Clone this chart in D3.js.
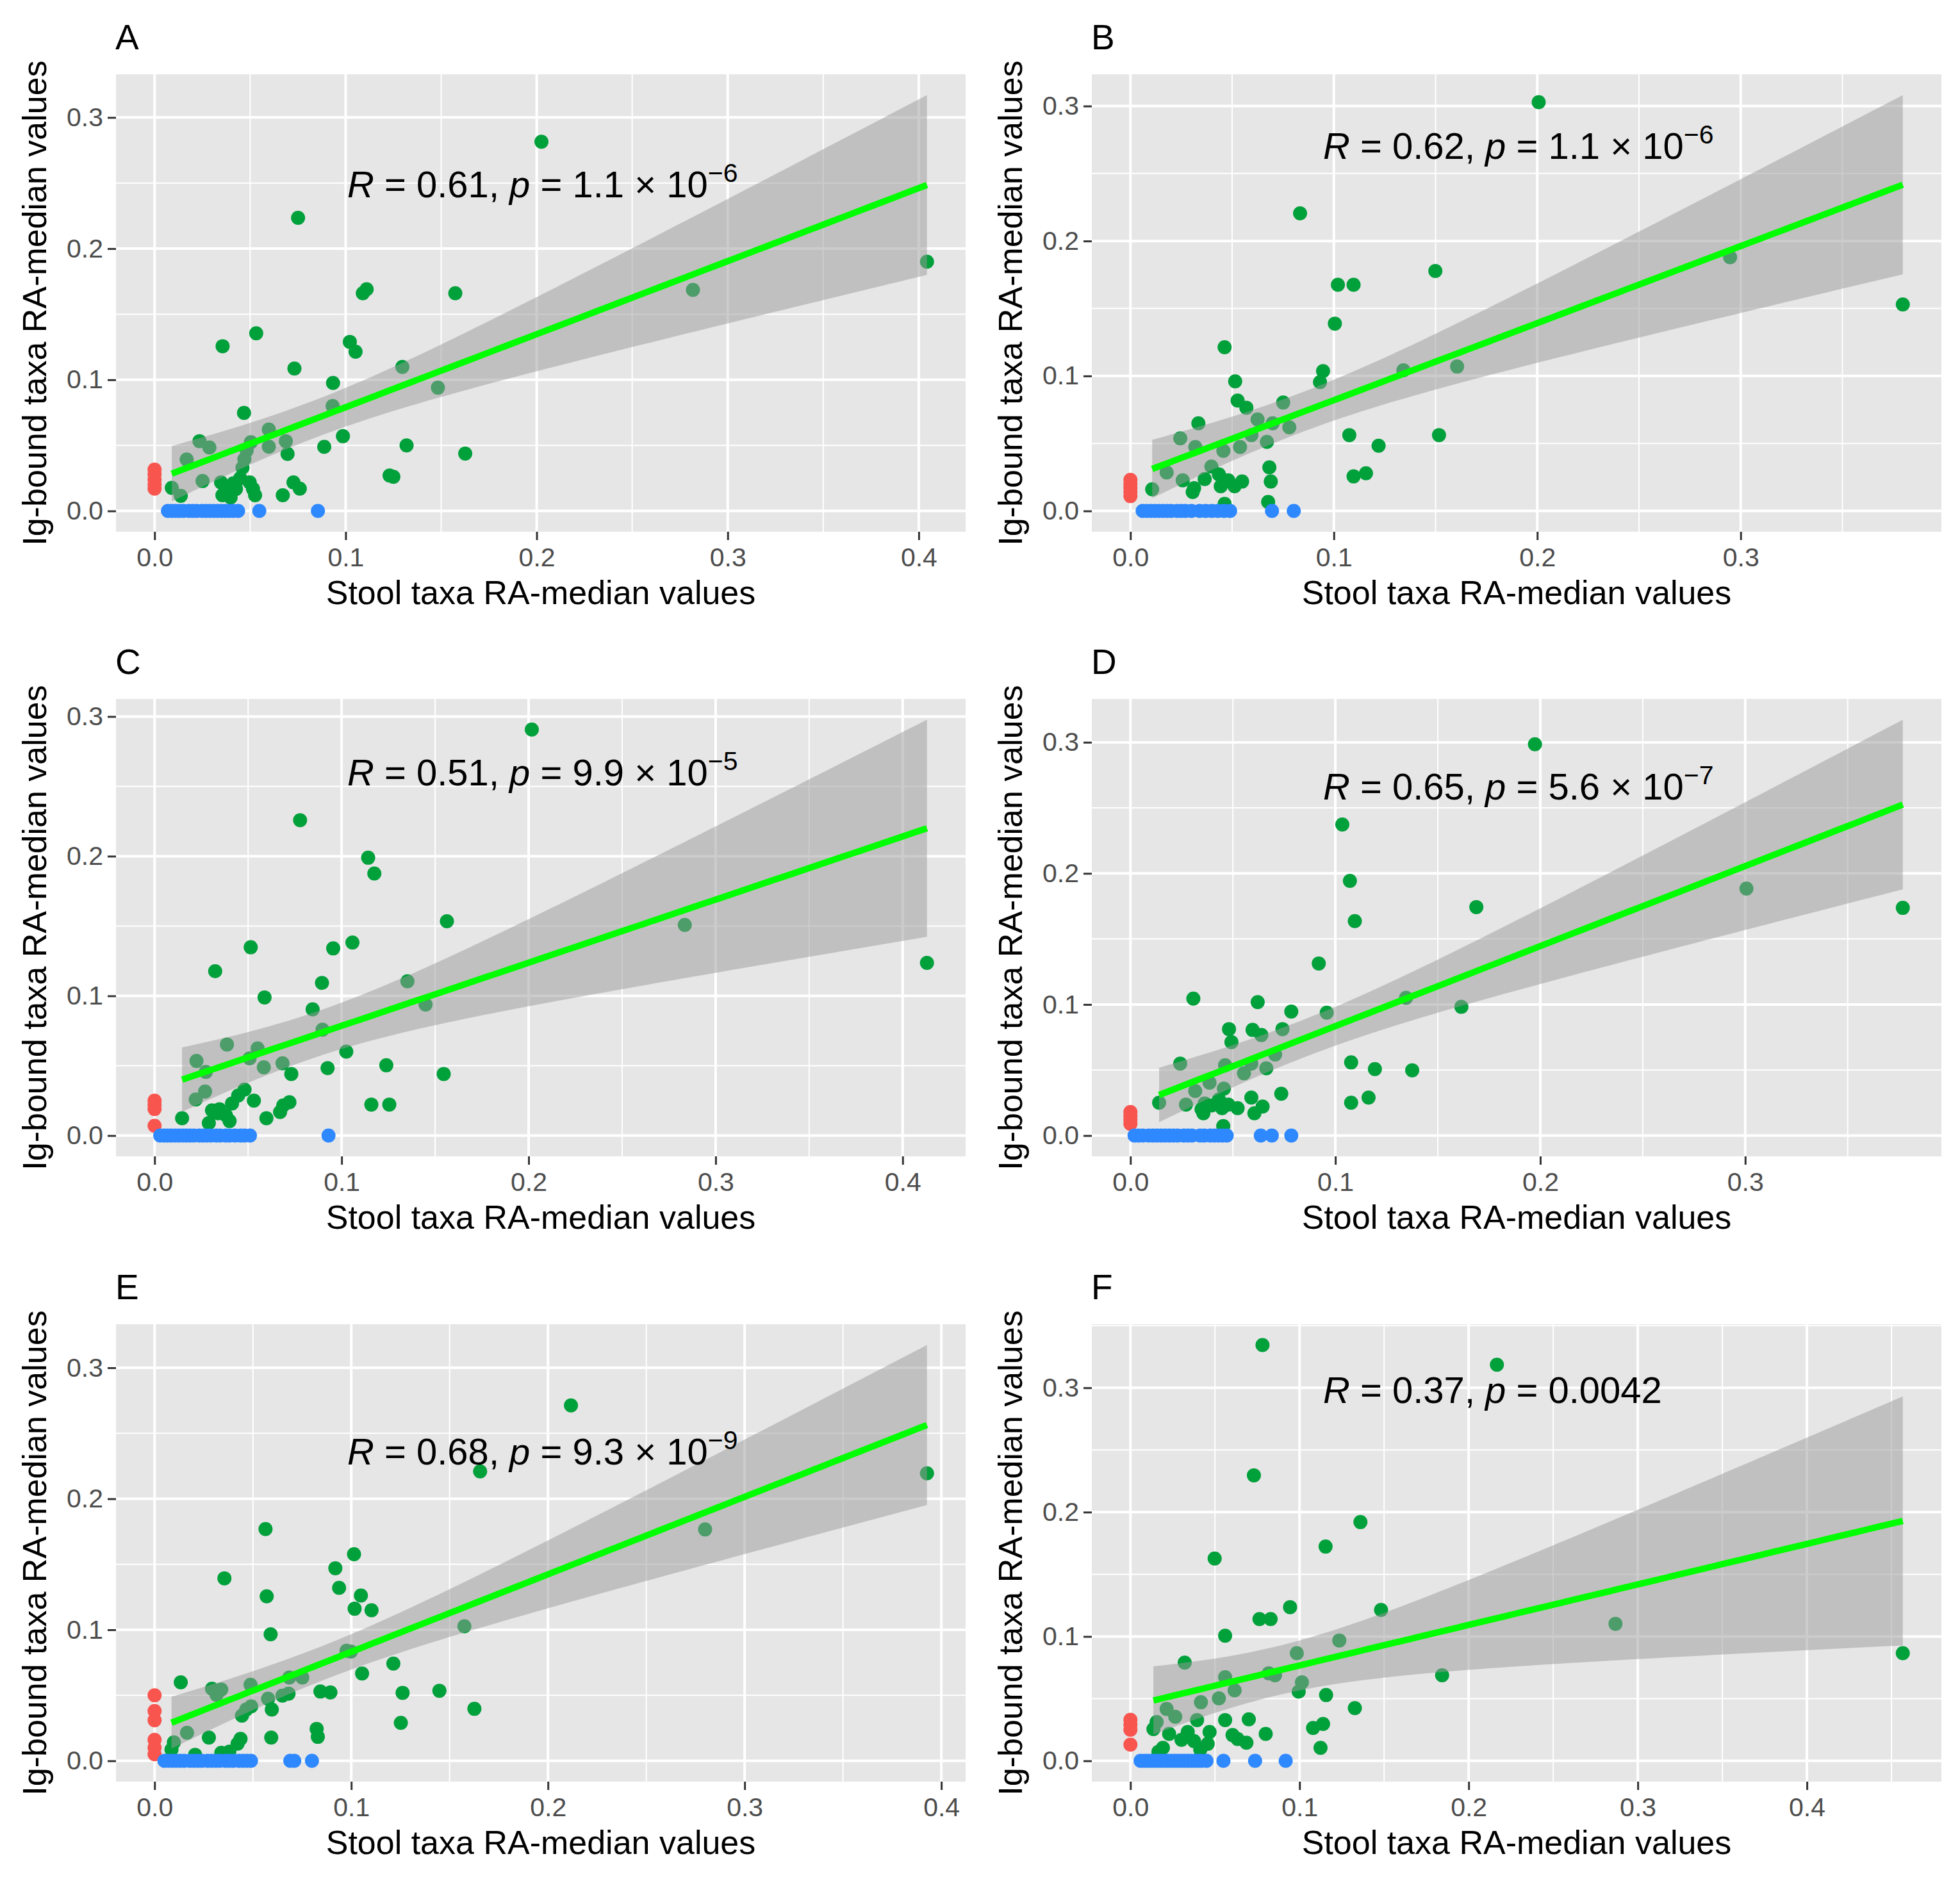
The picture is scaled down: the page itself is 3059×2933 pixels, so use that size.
<!DOCTYPE html>
<html>
<head>
<meta charset="utf-8">
<script src="https://cdn.jsdelivr.net/npm/d3@7"></script>
<style>
  body { margin: 0; background: #fff; }
  text { font-family: "Liberation Sans", Arial, sans-serif; }
</style>
</head>
<body>
<svg id="fig"></svg>
<script>
const W = 3059, H = 2933;

// green points: [stool RA-median, Ig-bound RA-median]
const greenA = [[0.2025,0.2815],[0.0751,0.2235],[0.4043,0.190],[0.2818,0.1685],[0.109,0.166],[0.111,0.169],[0.1574,0.166],[0.0532,0.1354],[0.0356,0.1256],[0.1022,0.1289],[0.1052,0.1214],[0.0732,0.1086],[0.1297,0.1098],[0.0934,0.0976],[0.1483,0.094],[0.0468,0.0748],[0.0932,0.080],[0.0986,0.057],[0.0598,0.0621],[0.0598,0.049],[0.0687,0.0532],[0.0696,0.0435],[0.0888,0.0489],[0.1319,0.05],[0.1626,0.0437],[0.123,0.027],[0.125,0.026],[0.0235,0.0532],[0.0287,0.0484],[0.0168,0.0392],[0.0251,0.0228],[0.009,0.0176],[0.0137,0.0115],[0.0348,0.0217],[0.037,0.0152],[0.0398,0.0103],[0.0426,0.0168],[0.0448,0.0249],[0.046,0.033],[0.047,0.0395],[0.0482,0.046],[0.0504,0.0524],[0.0498,0.0217],[0.0515,0.0168],[0.0526,0.012],[0.0671,0.012],[0.0727,0.0217],[0.076,0.017],[0.0355,0.012],[0.0412,0.021]];
const greenB = [[0.2007,0.3029],[0.0834,0.2205],[0.2948,0.188],[0.1499,0.1778],[0.102,0.1676],[0.1097,0.1676],[0.3797,0.153],[0.1005,0.1388],[0.0463,0.1213],[0.1606,0.107],[0.1342,0.1042],[0.0947,0.1036],[0.0932,0.0954],[0.0515,0.096],[0.0527,0.0818],[0.057,0.0765],[0.0751,0.0803],[0.0625,0.0678],[0.0699,0.0649],[0.0781,0.062],[0.0334,0.0649],[0.0245,0.0538],[0.0319,0.0474],[0.0457,0.0445],[0.0539,0.0474],[0.0671,0.0512],[0.0595,0.0562],[0.1076,0.0562],[0.1517,0.0562],[0.122,0.0483],[0.0683,0.0323],[0.069,0.0218],[0.0677,0.0067],[0.1097,0.0256],[0.1158,0.0279],[0.0178,0.0285],[0.0107,0.016],[0.0257,0.0227],[0.0313,0.0169],[0.0365,0.0236],[0.0398,0.0329],[0.0435,0.0271],[0.0444,0.0183],[0.0481,0.0227],[0.0512,0.0183],[0.0549,0.0218],[0.0463,0.0052],[0.0306,0.014]];
const greenC = [[0.2017,0.2907],[0.0778,0.2258],[0.1142,0.1989],[0.1175,0.1876],[0.1563,0.1534],[0.2835,0.1508],[0.413,0.1236],[0.0514,0.1348],[0.0955,0.134],[0.1058,0.1382],[0.0324,0.1177],[0.0895,0.1093],[0.1352,0.1104],[0.0588,0.0989],[0.0845,0.0904],[0.1449,0.0938],[0.0898,0.0758],[0.0387,0.0652],[0.0551,0.0624],[0.1025,0.0601],[0.0224,0.0534],[0.0508,0.0553],[0.0584,0.0489],[0.0684,0.0517],[0.0731,0.0441],[0.0925,0.0483],[0.1239,0.0503],[0.1546,0.0441],[0.0274,0.0455],[0.027,0.0315],[0.022,0.0258],[0.0147,0.0124],[0.029,0.009],[0.0307,0.018],[0.0347,0.0188],[0.0381,0.0146],[0.0401,0.0104],[0.0414,0.023],[0.0447,0.0287],[0.0481,0.0329],[0.0531,0.025],[0.0598,0.0124],[0.0671,0.0169],[0.0688,0.0216],[0.0721,0.0239],[0.1159,0.0222],[0.1255,0.0222],[0.034,0.016]];
const greenD = [[0.1974,0.2985],[0.1034,0.2373],[0.1071,0.1943],[0.1095,0.1636],[0.1688,0.1743],[0.3006,0.1884],[0.3769,0.1737],[0.0919,0.1313],[0.0307,0.1045],[0.0621,0.1018],[0.0785,0.0946],[0.0958,0.0937],[0.1345,0.1051],[0.1615,0.0982],[0.0481,0.0812],[0.0596,0.0806],[0.0639,0.0767],[0.0742,0.0812],[0.0493,0.0713],[0.0706,0.0618],[0.0243,0.0549],[0.0462,0.0537],[0.0554,0.0475],[0.059,0.0549],[0.0663,0.0513],[0.1077,0.0558],[0.1193,0.0507],[0.1375,0.0498],[0.0386,0.0403],[0.0456,0.0358],[0.0316,0.034],[0.0736,0.0319],[0.014,0.0251],[0.0271,0.0236],[0.0347,0.02],[0.0362,0.0245],[0.0396,0.023],[0.0432,0.0275],[0.0447,0.0209],[0.0478,0.0236],[0.0523,0.0209],[0.059,0.029],[0.0605,0.017],[0.0645,0.0221],[0.1077,0.0251],[0.1162,0.029],[0.0453,0.0072],[0.0356,0.017]];
const greenE = [[0.2117,0.2713],[0.1655,0.2209],[0.3927,0.2194],[0.2799,0.1766],[0.0564,0.1769],[0.1014,0.1577],[0.0919,0.147],[0.0355,0.1393],[0.0938,0.132],[0.1049,0.1262],[0.057,0.1256],[0.1017,0.1161],[0.1103,0.1149],[0.059,0.0966],[0.1575,0.1027],[0.0976,0.084],[0.0998,0.0834],[0.1214,0.0742],[0.1055,0.0666],[0.0685,0.0636],[0.0751,0.0636],[0.0133,0.0599],[0.0292,0.055],[0.0339,0.0544],[0.0488,0.0581],[0.0315,0.0504],[0.0843,0.0529],[0.0894,0.0522],[0.1261,0.0519],[0.1448,0.0535],[0.065,0.0498],[0.0681,0.0513],[0.0577,0.0474],[0.0491,0.0416],[0.0466,0.0391],[0.0596,0.0391],[0.0444,0.0345],[0.1626,0.0397],[0.1252,0.029],[0.0824,0.0244],[0.083,0.0183],[0.0165,0.0214],[0.0276,0.0177],[0.0593,0.0177],[0.0437,0.0168],[0.0422,0.0131],[0.0098,0.0141],[0.0086,0.0086],[0.0206,0.0046],[0.0339,0.0061],[0.038,0.007]];
const greenF = [[0.0781,0.3344],[0.2167,0.3185],[0.073,0.2296],[0.136,0.192],[0.1154,0.1723],[0.0498,0.1627],[0.0944,0.1236],[0.1482,0.1213],[0.0763,0.114],[0.0829,0.114],[0.2868,0.1102],[0.056,0.1006],[0.1235,0.0968],[0.0984,0.0866],[0.4567,0.0866],[0.0321,0.079],[0.1843,0.0688],[0.0818,0.0704],[0.0855,0.0688],[0.056,0.0672],[0.1014,0.0631],[0.0995,0.0557],[0.0616,0.0567],[0.1157,0.0529],[0.0523,0.0503],[0.0417,0.0471],[0.0214,0.0417],[0.0265,0.0354],[0.1327,0.0424],[0.0394,0.0328],[0.0155,0.0312],[0.056,0.0328],[0.07,0.0334],[0.0136,0.0255],[0.108,0.0264],[0.1139,0.0296],[0.0229,0.0217],[0.0339,0.0232],[0.0468,0.0232],[0.0604,0.0207],[0.0634,0.0175],[0.0686,0.0146],[0.08,0.0217],[0.0302,0.0169],[0.0376,0.0159],[0.0457,0.0137],[0.1124,0.0105],[0.0192,0.0105],[0.0166,0.0073],[0.0413,0.009]];

// red points sit at stool = 0 (Ig-bound values listed)
const redA = [0.0315, 0.028, 0.024, 0.020, 0.017];
const redB = [0.023, 0.020, 0.017, 0.014, 0.011];
const redC = [0.025, 0.022, 0.019, 0.007];
const redD = [0.018, 0.015, 0.012, 0.009];
const redE = [0.050, 0.038, 0.031, 0.016, 0.010, 0.005];
const redF = [0.033, 0.029, 0.025, 0.013];

// blue points sit at Ig-bound = 0 (stool values listed)
const blueA = [0.007,0.009,0.011,0.013,0.015,0.018,0.020,0.022,0.025,0.027,0.029,0.031,0.033,0.035,0.037,0.039,0.041,0.0437,0.0548,0.0855];
const blueB = [0.006,0.008,0.010,0.012,0.014,0.016,0.018,0.020,0.023,0.025,0.027,0.030,0.034,0.037,0.040,0.043,0.046,0.049,0.0696,0.0803];
const blueC = [0.003,0.005,0.007,0.009,0.011,0.013,0.015,0.017,0.019,0.021,0.024,0.026,0.028,0.030,0.033,0.035,0.038,0.040,0.043,0.046,0.048,0.051,0.093];
const blueD = [0.002,0.004,0.006,0.009,0.011,0.013,0.015,0.017,0.019,0.021,0.023,0.026,0.028,0.030,0.034,0.036,0.039,0.041,0.043,0.045,0.047,0.0636,0.069,0.0785];
const blueE = [0.005,0.007,0.009,0.011,0.013,0.015,0.018,0.020,0.022,0.024,0.027,0.029,0.031,0.033,0.036,0.038,0.040,0.043,0.045,0.047,0.049,0.069,0.071,0.080];
const blueF = [0.006,0.008,0.010,0.012,0.014,0.016,0.018,0.020,0.022,0.024,0.026,0.028,0.030,0.032,0.034,0.036,0.038,0.040,0.042,0.045,0.055,0.0737,0.0918];

const panelLetters = ['A', 'B', 'C', 'D', 'E', 'F'];
const rValues = ['0.61', '0.62', '0.51', '0.65', '0.68', '0.37'];
const pValues = ['1.1', '1.1', '9.9', '5.6', '9.3', '0.0042'];
const pExponents = ['6', '6', '5', '7', '9', null];
const xTitle = 'Stool taxa RA-median values';
const yTitle = 'Ig-bound taxa RA-median values';

const greens = [greenA, greenB, greenC, greenD, greenE, greenF];
const reds = [redA, redB, redC, redD, redE, redF];
const blues = [blueA, blueB, blueC, blueD, blueE, blueF];

// layout (pixels)
const colLeft = [181, 1704];
const rowTop = [116, 1091, 2067];
const pw = 1326, ph = 714;
const labelDy = [192, 132, 135, 157, 219, 123];
const labelDx = 361;

const colRed = '#F8554F', colGreen = '#00A03B', colBlue = '#2E88FF';

const svg = d3.select('#fig')
  .attr('width', W)
  .attr('height', H)
  .attr('viewBox', `0 0 ${W} ${H}`);

svg.append('rect').attr('width', W).attr('height', H).attr('fill', '#fff');

// rough t quantile (0.975) for the 95% band
function tQuant(df) {
  const z = 1.959964;
  return z + (z**3 + z) / (4*df) + (5*z**5 + 16*z**3 + 3*z) / (96*df*df);
}

function lmBand(pts) {
  const n = pts.length;
  const mx = d3.mean(pts, d => d[0]), my = d3.mean(pts, d => d[1]);
  let sxx = 0, sxy = 0;
  pts.forEach(([x, y]) => { sxx += (x-mx)**2; sxy += (x-mx)*(y-my); });
  const b = sxy / sxx, a = my - b*mx;
  let sse = 0;
  pts.forEach(([x, y]) => { sse += (y - a - b*x)**2; });
  const s = Math.sqrt(sse / (n-2));
  const t = tQuant(n-2);
  const [x0, x1] = d3.extent(pts, d => d[0]);
  return d3.range(80).map(i => {
    const x = x0 + (x1-x0)*i/79;
    const yh = a + b*x;
    const se = s * Math.sqrt(1/n + (x-mx)**2/sxx);
    return {x: x, y: yh, lo: yh - t*se, hi: yh + t*se};
  });
}

function expand(ext) {
  const d = (ext[1] - ext[0]) * 0.05;
  return [ext[0] - d, ext[1] + d];
}

function breaks(dom, step, offset) {
  const out = [];
  for (let k = Math.ceil((dom[0]-offset)/step - 1e-9); k*step + offset <= dom[1] + 1e-9; k++) {
    out.push(Math.round((k*step + offset)*1000)/1000);
  }
  return out;
}

panelLetters.forEach((letter, i) => {
  const left = colLeft[i % 2];
  const top = rowTop[Math.floor(i / 2)];
  const g = greens[i], r = reds[i], b = blues[i];
  const band = lmBand(g);

  const allX = g.map(d => d[0]).concat(b, r.map(() => 0));
  const allY = g.map(d => d[1]).concat(r, b.map(() => 0), band.map(d => d.lo), band.map(d => d.hi));
  const xDom = expand(d3.extent(allX));
  const yDom = expand(d3.extent(allY));

  const x = d3.scaleLinear().domain(xDom).range([left, left + pw]);
  const y = d3.scaleLinear().domain(yDom).range([top + ph, top]);

  const panel = svg.append('g').attr('class', 'panel-' + letter);

  // clip for the panel contents
  const clipId = 'clip' + letter;
  panel.append('clipPath').attr('id', clipId)
    .append('rect').attr('x', left).attr('y', top).attr('width', pw).attr('height', ph);

  panel.append('rect')
    .attr('x', left).attr('y', top).attr('width', pw).attr('height', ph)
    .attr('fill', '#E6E6E6');

  const xMajor = breaks(xDom, 0.1, 0), xMinor = breaks(xDom, 0.1, 0.05);
  const yMajor = breaks(yDom, 0.1, 0), yMinor = breaks(yDom, 0.1, 0.05);

  const grid = panel.append('g').attr('stroke', '#fff');
  grid.selectAll('.vmin').data(xMinor).enter().append('line')
    .attr('x1', d => x(d)).attr('x2', d => x(d)).attr('y1', top).attr('y2', top + ph)
    .attr('stroke-width', 2);
  grid.selectAll('.hmin').data(yMinor).enter().append('line')
    .attr('y1', d => y(d)).attr('y2', d => y(d)).attr('x1', left).attr('x2', left + pw)
    .attr('stroke-width', 2);
  grid.selectAll('.vmaj').data(xMajor).enter().append('line')
    .attr('x1', d => x(d)).attr('x2', d => x(d)).attr('y1', top).attr('y2', top + ph)
    .attr('stroke-width', 4);
  grid.selectAll('.hmaj').data(yMajor).enter().append('line')
    .attr('y1', d => y(d)).attr('y2', d => y(d)).attr('x1', left).attr('x2', left + pw)
    .attr('stroke-width', 4);

  const marks = panel.append('g').attr('clip-path', `url(#${clipId})`);

  marks.selectAll('.pt-g').data(g).enter().append('circle')
    .attr('cx', d => x(d[0])).attr('cy', d => y(d[1])).attr('r', 11)
    .attr('fill', colGreen);
  marks.selectAll('.pt-r').data(r).enter().append('circle')
    .attr('cx', x(0)).attr('cy', d => y(d)).attr('r', 11)
    .attr('fill', colRed);
  marks.selectAll('.pt-b').data(b).enter().append('circle')
    .attr('cx', d => x(d)).attr('cy', y(0)).attr('r', 11)
    .attr('fill', colBlue);

  marks.append('path')
    .datum(band)
    .attr('d', d3.area().x(d => x(d.x)).y0(d => y(d.lo)).y1(d => y(d.hi)))
    .attr('fill', '#999999').attr('fill-opacity', 0.5);

  marks.append('path')
    .datum(band)
    .attr('d', d3.line().x(d => x(d.x)).y(d => y(d.y)))
    .attr('fill', 'none').attr('stroke', '#00FF00').attr('stroke-width', 10);

  // axes
  const xAxis = d3.axisBottom(x).tickValues(xMajor).tickFormat(d3.format('.1f'))
    .tickSize(13).tickSizeOuter(0).tickPadding(12);
  const yAxis = d3.axisLeft(y).tickValues(yMajor).tickFormat(d3.format('.1f'))
    .tickSize(13).tickSizeOuter(0).tickPadding(7);

  const gx = panel.append('g').attr('transform', `translate(0,${top + ph})`).call(xAxis);
  const gy = panel.append('g').attr('transform', `translate(${left},0)`).call(yAxis);
  [gx, gy].forEach(ax => {
    ax.select('.domain').remove();
    ax.selectAll('.tick line').attr('stroke', '#333').attr('stroke-width', 3);
    ax.selectAll('.tick text')
      .attr('fill', '#4D4D4D')
      .style('font-size', '41px')
      .style('font-family', '"Liberation Sans", Arial, sans-serif');
  });

  // titles
  panel.append('text')
    .attr('x', left + pw/2).attr('y', top + ph + 113)
    .attr('text-anchor', 'middle')
    .style('font-size', '52px').attr('fill', '#000')
    .text(xTitle);

  panel.append('text')
    .attr('transform', `translate(${left - 109},${top + ph/2}) rotate(-90)`)
    .attr('text-anchor', 'middle')
    .style('font-size', '52px').attr('fill', '#000')
    .text(yTitle);

  panel.append('text')
    .attr('x', left - 1).attr('y', top - 39)
    .style('font-size', '55px').attr('fill', '#000')
    .text(letter);

  // correlation label
  const lab = panel.append('text')
    .attr('x', left + labelDx).attr('y', top + labelDy[i])
    .style('font-size', '58px').attr('fill', '#000');
  lab.append('tspan').style('font-style', 'italic').text('R');
  lab.append('tspan').text(` = ${rValues[i]}, `);
  lab.append('tspan').style('font-style', 'italic').text('p');
  if (pExponents[i]) {
    lab.append('tspan').text(` = ${pValues[i]} \u00d7 10`);
    lab.append('tspan').attr('dy', -24).style('font-size', '41px').text('\u2212' + pExponents[i]);
  } else {
    lab.append('tspan').text(` = ${pValues[i]}`);
  }
});
</script>
</body>
</html>
